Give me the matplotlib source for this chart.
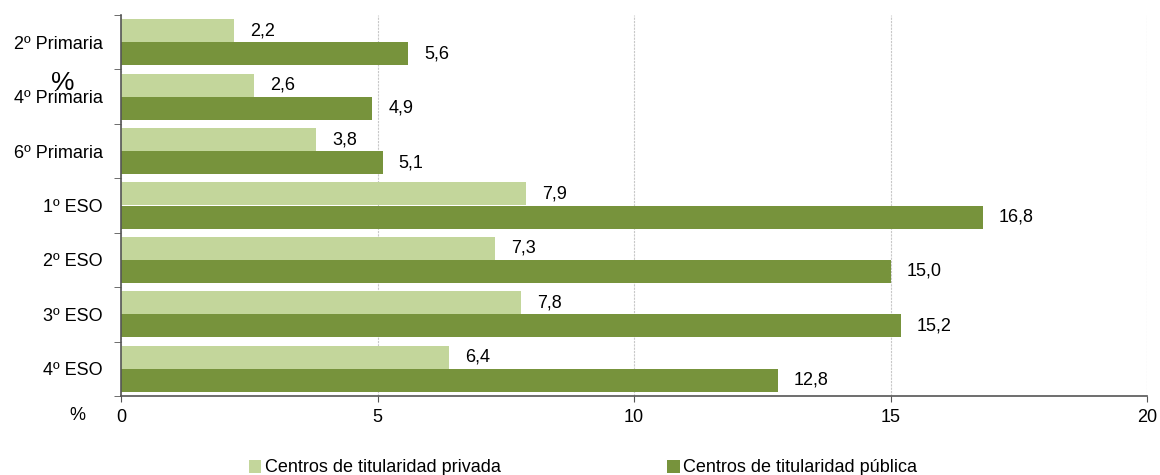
import numpy as np
import matplotlib
matplotlib.use("Agg")
import matplotlib.pyplot as plt

plt.rcParams['font.family'] = ['Liberation Sans', 'DejaVu Sans']

# data
cursos = ['2º Primaria', '4º Primaria', '6º Primaria', '1º ESO', '2º ESO', '3º ESO', '4º ESO']
privada = [2.2, 2.6, 3.8, 7.9, 7.3, 7.8, 6.4]
publica = [5.6, 4.9, 5.1, 16.8, 15.0, 15.2, 12.8]
series_names = ['Centros de titularidad privada', 'Centros de titularidad pública']
x_ticks = [0, 5, 10, 15, 20]

color_light = '#C3D69B'
color_dark = '#77933C'
axis_color = '#555555'
fs = 13

fig = plt.figure(figsize=(11.6, 4.75), dpi=100)
ax = fig.add_axes([121 / 1160, 1 - 396 / 475, (1147 - 121) / 1160, (396 - 15) / 475])

n = len(cursos)
pos = np.arange(n)
h = 0.425

b1 = ax.barh(pos - h / 2, privada, height=h, color=color_light, label=series_names[0], zorder=2)
b2 = ax.barh(pos + h / 2, publica, height=h, color=color_dark, label=series_names[1], zorder=2)

for bars, vals in ((b1, privada), (b2, publica)):
    for bar, v in zip(bars, vals):
        ax.annotate(f"{v:.1f}".replace('.', ','),
                    (bar.get_width(), bar.get_y() + bar.get_height() / 2),
                    xytext=(16, 0), textcoords='offset pixels',
                    ha='left', va='center', fontsize=fs, color='black')

ax.set_xlim(0, 20)
ax.set_ylim(n - 0.5, -0.5)
ax.set_xticks(x_ticks)
ax.set_xticklabels([str(t) for t in x_ticks], fontsize=fs)
ax.set_yticks(pos)
ax.set_yticklabels(cursos, fontsize=fs)
ax.set_yticks(np.arange(n + 1) - 0.5, minor=True)
ax.tick_params(axis='y', which='major', length=0, pad=13)
ax.tick_params(axis='y', which='minor', length=5, color=axis_color, direction='out')
ax.tick_params(axis='x', length=4, color=axis_color, direction='out', pad=5)

ax.xaxis.grid(True, color='#C8C8C8', linestyle=(0, (2, 1)), linewidth=0.8, zorder=0)
ax.set_axisbelow(True)
for s in ('top', 'right'):
    ax.spines[s].set_visible(False)
for s in ('left', 'bottom'):
    ax.spines[s].set_color(axis_color)
    ax.spines[s].set_linewidth(1.2)

fig.text(77 / 1160, 1 - 415 / 475, '%', fontsize=fs, ha='center', va='center')
fig.text(63 / 1160, 1 - 83 / 475, '%', fontsize=19, ha='center', va='center')

fig.legend(handles=[b1, b2], labels=series_names, loc='center', ncol=2,
           bbox_to_anchor=(583 / 1160, 1 - 468 / 475), frameon=False,
           fontsize=fs, handlelength=0.7, handleheight=0.7, handletextpad=0.2,
           columnspacing=9.2)

fig.savefig('out.png', dpi=100)
